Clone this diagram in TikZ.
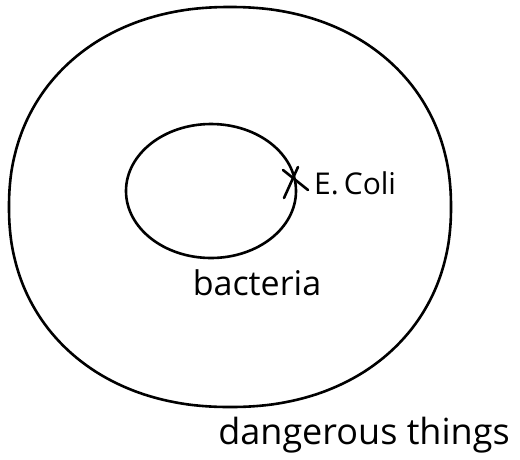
\documentclass[tikz,border=0pt]{standalone}
\usepackage{fontspec}
\setmainfont{Open Sans}
\begin{document}
\begin{tikzpicture}[x=1pt,y=-1pt,
    hand/.style={line width=2.6pt, line cap=round},
    label/.style={inner sep=0pt}]
            \useasboundingbox (0,0) rectangle (520,459);

            % Draw dangerous things
            \draw [hand] plot[smooth cycle, domain=0:357, samples=120, variable=\t]
                ({230+221*sign(cos(\t))*(abs(cos(\t))+0.0001)^0.93},
                 {207+200*sign(sin(\t))*(abs(sin(\t))+0.0001)^0.93});
            \node[label, font=\fontsize{36}{40}\selectfont] (dang) at (364,435) {dangerous things};

            % Draw bacteria
            \draw [hand] (211,191) ellipse (85 and 67);
            \node[label, font=\fontsize{34}{38}\selectfont] (bact) at (257,283) {bacteria};

            % Mark E. Coli
            \coordinate (ecoli) at (294,182);
            \draw [hand] (283,170) -- (308,190);
            \draw [hand] (298,167) -- (284,198);
            \node[label, anchor=west, font=\fontsize{30}{34}\selectfont] (ecolitext) at (314,183) {E.\,Coli};
        \end{tikzpicture}
\end{document}
